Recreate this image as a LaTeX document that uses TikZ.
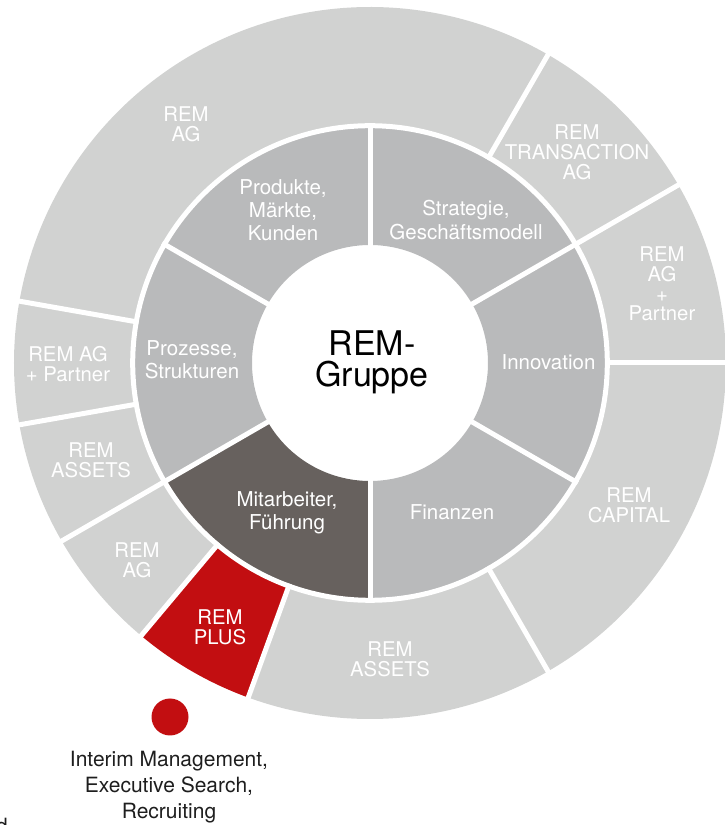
\documentclass[tikz,border=0pt]{standalone}
\usepackage{fontspec}
\setmainfont{TeX Gyre Heros}
\definecolor{outergray}{RGB}{209,210,209}
\definecolor{midgray}{RGB}{185,186,187}
\definecolor{darkseg}{RGB}{103,97,94}
\definecolor{remred}{RGB}{194,14,17}
\definecolor{txtdark}{RGB}{30,30,30}
\newcommand{\ringsector}[5]{%
  \fill[#1] (#2:#4pt) arc[start angle=#2, end angle=#3, radius=#4pt] -- (#3:#5pt) arc[start angle=#3, end angle=#2, radius=#5pt] -- cycle;}
\tikzset{
  outertxt/.style={text=white, font=\fontsize{20.3}{19.8}\selectfont, align=center, inner sep=0pt},
  midtxt/.style={text=white, font=\fontsize{20.5}{23.3}\selectfont, align=center, inner sep=0pt},
  centertxt/.style={text=black, font=\fontsize{34}{31}\selectfont, align=center, inner sep=0pt},
  captiontxt/.style={text=txtdark, font=\fontsize{21}{26.3}\selectfont, align=center, inner sep=0pt},
  gapline/.style={white, line width=5pt}
}
\begin{document}
\begin{tikzpicture}[x=1pt,y=1pt]
\useasboundingbox (0,0) rectangle (724,825);
\begin{scope}[shift={(370pt,462pt)}]
  % outer ring
  \ringsector{outergray}{60}{170}{237}{356}
  \ringsector{outergray}{30}{60}{237}{356}
  \ringsector{outergray}{0}{30}{237}{356}
  \ringsector{outergray}{-60}{0}{237}{356}
  \ringsector{outergray}{250}{300}{237}{356}
  \ringsector{remred}{230}{250}{237}{356}
  \ringsector{outergray}{210}{230}{237}{356}
  \ringsector{outergray}{190}{210}{237}{356}
  \ringsector{outergray}{170}{190}{237}{356}
  % middle ring
  \ringsector{midgray}{30}{90}{118}{238}
  \ringsector{midgray}{90}{150}{118}{238}
  \ringsector{midgray}{150}{210}{118}{238}
  \ringsector{darkseg}{210}{270}{118}{238}
  \ringsector{midgray}{270}{330}{118}{238}
  \ringsector{midgray}{-30}{30}{118}{238}
  % gaps
  \draw[gapline] (0,0) circle[radius=237.3pt];
  \foreach \a in {30,90,150,210,270,330} \draw[gapline] (\a:112pt) -- (\a:240pt);
  \foreach \a in {0,30,60,170,190,210,230,250,300} \draw[gapline] (\a:235pt) -- (\a:362pt);
\end{scope}
% centre
\node[centertxt] (centre) at (372,463) {REM-\\Gruppe};
% middle ring labels
\node[midtxt] (produkte) at (283,615) {Produkte,\\Märkte,\\Kunden};
\node[midtxt] (strategie) at (466,605) {Strategie,\\Geschäftsmodell};
\node[midtxt] (innovation) at (548.5,463) {Innovation};
\node[midtxt] (finanzen) at (452,313) {Finanzen};
\node[midtxt] (mitarbeiter) at (287,312) {Mitarbeiter,\\Führung};
\node[midtxt] (prozesse) at (192,465) {Prozesse,\\Strukturen};
% outer ring labels
\node[outertxt] (oag) at (186,701) {REM\\AG};
\node[outertxt] (otrans) at (577,673) {REM\\TRANSACTION\\AG};
\node[outertxt] (oagpr) at (662,541) {REM\\AG\\+\\Partner};
\node[outertxt] (ocap) at (629,320) {REM\\CAPITAL};
\node[outertxt] (oassetsb) at (390,166) {REM\\ASSETS};
\node[outertxt] (oplus) at (220,198) {REM\\PLUS};
\node[outertxt] (oagll) at (137,265) {REM\\AG};
\node[outertxt] (oassetsl) at (91,365) {REM\\ASSETS};
\node[outertxt] (oagpl) at (68,461) {REM AG\\+ Partner};
% legend
\fill[remred] (170,108) circle[radius=18.5pt];
\node[captiontxt] (caption) at (169,38) {Interim Management,\\Executive Search,\\Recruiting};
\node[captiontxt, anchor=base east] (frag) at (8,-8.5) {d};
\end{tikzpicture}
\end{document}
